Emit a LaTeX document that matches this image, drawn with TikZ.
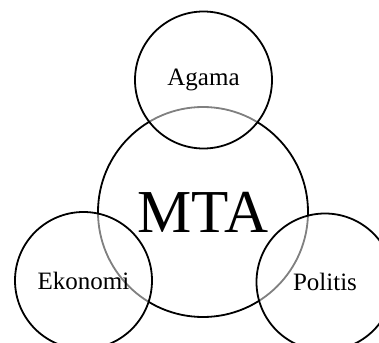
\documentclass[tikz,border=0pt]{standalone}
\usepackage{fontspec}
\setmainfont{Liberation Serif}
\tikzset{sat/.style={fill=white, fill opacity=0.5, text opacity=1, minimum size=137pt, font=\fontsize{25}{25}\selectfont}}

\begin{document}
\begin{tikzpicture}[x=1pt, y=-1pt]
\useasboundingbox (0,0) rectangle (379,342);
\tikzstyle{every node}=[circle,draw,line width=1.8pt,inner sep=0pt]
\node[minimum size=210pt, font=\fontsize{61}{61}\selectfont] (mta) at (203,212) {MTA};
\node[sat] (agama) at (203.5,80) {Agama};
\node[sat] (ekonomi) at (83.5,280.5) {Ekonomi};
\node[sat] (politis) at (325,282) {Politis};
\end{tikzpicture}
\end{document}
